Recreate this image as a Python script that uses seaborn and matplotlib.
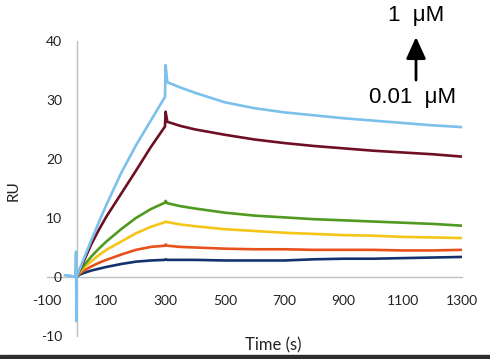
import matplotlib
matplotlib.use("Agg")
from matplotlib import pyplot as plt
from matplotlib.patches import Rectangle
import seaborn as sns
import pandas as pd

# Sensorgram values (RU vs time in s)
tempo = [0, 10, 25, 50, 75, 100, 150, 200, 250, 298, 300, 306, 350, 400, 500, 600, 700, 800, 900, 1000, 1100, 1200, 1300]
ru_c1 = [0, 0.4, 0.7, 1.1, 1.4, 1.7, 2.2, 2.6, 2.8, 2.9, 3.0, 2.9, 2.9, 2.9, 2.8, 2.8, 2.8, 3.0, 3.1, 3.1, 3.2, 3.3, 3.4]
ru_c2 = [0, 0.6, 1.1, 1.8, 2.4, 2.9, 3.8, 4.6, 5.1, 5.3, 5.5, 5.3, 5.1, 5.0, 4.8, 4.7, 4.7, 4.6, 4.6, 4.6, 4.5, 4.5, 4.6]
ru_c3 = [0, 0.8, 1.6, 2.7, 3.7, 4.6, 6.0, 7.4, 8.5, 9.3, 9.4, 9.3, 8.9, 8.6, 8.1, 7.8, 7.5, 7.3, 7.1, 7.0, 6.8, 6.7, 6.6]
ru_c4 = [0, 1.0, 2.0, 3.5, 4.8, 6.0, 8.1, 10.0, 11.5, 12.6, 12.9, 12.5, 12.0, 11.6, 10.9, 10.4, 10.1, 9.8, 9.6, 9.4, 9.2, 9.0, 8.7]
ru_c5 = [0, 1.2, 2.8, 5.6, 8.0, 10.2, 14.1, 18.0, 22.0, 25.5, 28.0, 26.3, 25.6, 25.0, 24.1, 23.3, 22.7, 22.2, 21.8, 21.4, 21.1, 20.8, 20.4]
ru_c6 = [0, 1.3, 3.2, 6.3, 9.3, 12.2, 17.6, 22.3, 26.5, 30.5, 35.9, 33.0, 32.1, 31.2, 29.6, 28.6, 27.9, 27.4, 26.9, 26.5, 26.1, 25.7, 25.4]

# injection artefact on the highest concentration, before t=0
pre_tempo = [-40, -20, -4, -2, -1]
pre_c6 = [0.3, 0.2, 0.0, 4.3, -7.5]

series = ["c1", "c2", "c3", "c4", "c5", "c6"]
cores = ["#14336e", "#e8511c", "#f5c518", "#4f9a1f", "#6e0f24", "#7cc0ec"]


def montar():
    linhas = []
    for nome, vals in zip(series, [ru_c1, ru_c2, ru_c3, ru_c4, ru_c5, ru_c6]):
        tt = list(tempo)
        vv = list(vals)
        if nome == "c6":
            tt = pre_tempo + tt
            vv = pre_c6 + vv
        for t, v in zip(tt, vv):
            linhas.append({"Time": t, "RU": v, "conc": nome})
    return pd.DataFrame(linhas)


def main():
    tabela = montar()
    sns.set_theme(style="white")
    plt.rcParams["font.family"] = ["Lato", "DejaVu Sans"]
    plt.rcParams["axes.unicode_minus"] = False

    fig = plt.figure(figsize=(4.9, 3.59), dpi=100)
    ax = fig.add_axes([0.0959, 0.064, 0.847, 0.822])
    sns.lineplot(data=tabela, x="Time", y="RU", hue="conc", hue_order=series,
                 palette=dict(zip(series, cores)), estimator=None, sort=False,
                 linewidth=1.9, legend=False, ax=ax)

    ax.set_xlim(-100, 1300)
    ax.set_ylim(-10, 40)
    ax.set_xticks(range(-100, 1301, 200))
    ax.set_yticks(range(-10, 41, 10))

    for lado in ["top", "right"]:
        ax.spines[lado].set_visible(False)
    ax.spines["left"].set_position(("data", 0))
    ax.spines["bottom"].set_position(("data", 0))
    for lado in ["left", "bottom"]:
        ax.spines[lado].set_color("#bfbfbf")
        ax.spines[lado].set_linewidth(1)
        ax.spines[lado].set_zorder(0)

    ax.tick_params(axis="y", length=0, pad=10.5, labelsize=10, labelcolor="#222222")
    ax.tick_params(axis="x", length=0, pad=13, labelsize=10, labelcolor="#222222")

    ax.set_xlabel("")
    ax.set_ylabel("")
    fig.text(0.558, 0.039, "Time (s)", ha="center", va="center", fontsize=12, color="#222222")
    fig.text(0.027, 0.47, "RU", ha="center", va="center", rotation=90, fontsize=11, color="#222222")

    # concentration arrow in the top right corner
    fig.text(0.849, 0.9415, "1  \u03bcM", ha="center", va="baseline", fontsize=16,
             family=["Liberation Sans", "DejaVu Sans"], color="black")
    fig.text(0.842, 0.713, "0.01  \u03bcM", ha="center", va="baseline", fontsize=16,
             family=["Liberation Sans", "DejaVu Sans"], color="black")
    ax.annotate("", xy=(0.849, 0.897), xytext=(0.849, 0.777),
                xycoords="figure fraction", textcoords="figure fraction",
                arrowprops=dict(arrowstyle="-|>,head_length=1.1,head_width=0.5",
                                color="black", lw=2, shrinkA=0, shrinkB=0))

    fig.patches.append(Rectangle((0, 0), 1, 4 / 359, transform=fig.transFigure,
                                 color="#2e2e2e", zorder=5))

    fig.savefig("out.png", dpi=100)


if __name__ == "__main__":
    main()
